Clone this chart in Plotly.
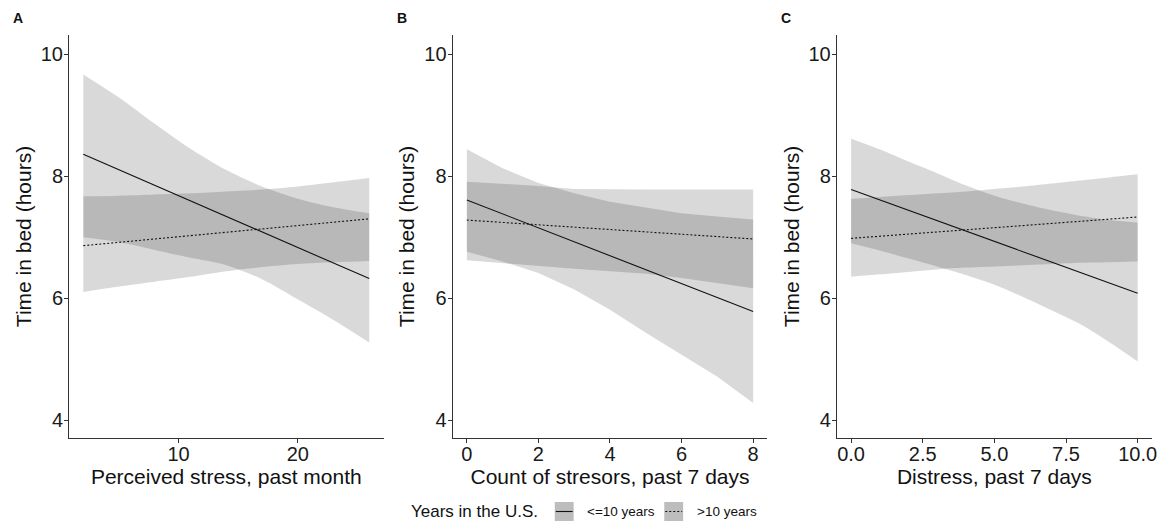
import plotly.graph_objects as go

# ---------------- data ----------------
# Panel A: Perceived stress, past month
xA = [2, 5, 8, 11, 14, 17, 20, 23, 26]
A_le10_hi = [9.67, 9.29, 8.86, 8.45, 8.10, 7.83, 7.63, 7.49, 7.39]
A_le10_lo = [7.00, 6.92, 6.79, 6.66, 6.54, 6.31, 5.98, 5.64, 5.27]
A_gt10_hi = [7.67, 7.68, 7.70, 7.72, 7.75, 7.78, 7.83, 7.90, 7.97]
A_gt10_lo = [6.10, 6.19, 6.27, 6.35, 6.44, 6.51, 6.56, 6.59, 6.61]
A_line_x = [2, 26]
A_le10_fit = [8.36, 6.32]
A_gt10_fit = [6.86, 7.30]

# Panel B: Count of stressors, past 7 days
xB = [0, 1, 2, 3, 4, 5, 6, 7, 8]
B_le10_hi = [8.44, 8.13, 7.89, 7.72, 7.58, 7.48, 7.39, 7.34, 7.29]
B_le10_lo = [6.76, 6.60, 6.41, 6.14, 5.81, 5.43, 5.07, 4.71, 4.28]
B_gt10_hi = [7.91, 7.88, 7.84, 7.79, 7.78, 7.78, 7.78, 7.78, 7.78]
B_gt10_lo = [6.62, 6.57, 6.52, 6.48, 6.44, 6.40, 6.33, 6.25, 6.16]
B_line_x = [0, 8]
B_le10_fit = [7.61, 5.78]
B_gt10_fit = [7.28, 6.97]

# Panel C: Distress, past 7 days
xC = [0, 1, 2, 3, 4, 5, 6, 7, 8, 9, 10]
C_le10_hi = [8.62, 8.44, 8.24, 8.05, 7.85, 7.68, 7.55, 7.44, 7.35, 7.28, 7.24]
C_le10_lo = [6.90, 6.78, 6.65, 6.52, 6.38, 6.22, 6.02, 5.80, 5.57, 5.28, 4.96]
C_gt10_hi = [7.63, 7.66, 7.69, 7.72, 7.75, 7.79, 7.83, 7.88, 7.93, 7.98, 8.03]
C_gt10_lo = [6.35, 6.39, 6.43, 6.47, 6.50, 6.52, 6.54, 6.56, 6.58, 6.59, 6.60]
C_line_x = [0, 10]
C_le10_fit = [7.78, 6.08]
C_gt10_fit = [6.98, 7.33]

y_ticks = [4, 6, 8, 10]
A_ticks = [10, 20]
B_ticks = [0, 2, 4, 6, 8]
C_ticks = [0, 2.5, 5, 7.5, 10]
C_ticklabels = ["0.0", "2.5", "5.0", "7.5", "10.0"]

x_titles = ["Perceived stress, past month", "Count of stresors, past 7 days", "Distress, past 7 days"]
y_title = "Time in bed (hours)"
panel_letters = ["A", "B", "C"]
legend_title = "Years in the U.S."
group_labels = ["<=10 years", ">10 years"]

# ---------------- layout helpers ----------------
# the page body has an 8px margin, so the figure is drawn 8px in from the corner
OFF = 8
W, H = 1176 - 2 * OFF, 529 - 2 * OFF
# plot area in reference-picture pixels
PL, PR, PT, PB = 69, 1157, 35, 438
ML, MR, MT, MB = PL - OFF, W - (PR - OFF), PT - OFF, H - (PB - OFF)
PW, PH = PR - PL, PB - PT


def px(xp):
    return (xp - PL) / PW


def py(yp):
    return (PB - yp) / PH


FONT = "Liberation Sans, Arial, sans-serif"
RIB = "rgba(0,0,0,0.15)"
LINE = "#111111"
DOT = "2px,2px"

panels = [
    dict(x=xA, le_hi=A_le10_hi, le_lo=A_le10_lo, gt_hi=A_gt10_hi, gt_lo=A_gt10_lo,
         lx=A_line_x, le_fit=A_le10_fit, gt_fit=A_gt10_fit, shape="spline",
         xr=[0.8, 27.2], tv=A_ticks, tt=[str(t) for t in A_ticks], dom=(69, 385)),
    dict(x=xB, le_hi=B_le10_hi, le_lo=B_le10_lo, gt_hi=B_gt10_hi, gt_lo=B_gt10_lo,
         lx=B_line_x, le_fit=B_le10_fit, gt_fit=B_gt10_fit, shape="linear",
         xr=[-0.4, 8.4], tv=B_ticks, tt=[str(t) for t in B_ticks], dom=(454.3, 770.7)),
    dict(x=xC, le_hi=C_le10_hi, le_lo=C_le10_lo, gt_hi=C_gt10_hi, gt_lo=C_gt10_lo,
         lx=C_line_x, le_fit=C_le10_fit, gt_fit=C_gt10_fit, shape="spline",
         xr=[-0.5, 10.5], tv=C_ticks, tt=C_ticklabels, dom=(840.3, 1157)),
]

fig = go.Figure()
layout = dict(
    width=W, height=H,
    margin=dict(l=ML, r=MR, t=MT, b=MB, pad=0),
    paper_bgcolor="white", plot_bgcolor="white",
    showlegend=False,
    font=dict(family=FONT, color="#111111"),
)

annotations = []
shapes = []

for i, p in enumerate(panels):
    k = "" if i == 0 else str(i + 1)
    xa, ya = "x" + k, "y" + k
    x = p["x"]
    for lo, hi in ((p["le_lo"], p["le_hi"]), (p["gt_lo"], p["gt_hi"])):
        fig.add_trace(go.Scatter(x=x, y=lo, xaxis=xa, yaxis=ya, mode="lines",
                                 line=dict(width=0, shape=p["shape"], smoothing=0.8),
                                 hoverinfo="skip"))
        fig.add_trace(go.Scatter(x=x, y=hi, xaxis=xa, yaxis=ya, mode="lines", fill="tonexty",
                                 fillcolor=RIB, line=dict(width=0, shape=p["shape"], smoothing=0.8),
                                 hoverinfo="skip"))
    # fitted lines
    fig.add_trace(go.Scatter(x=p["lx"], y=p["le_fit"], xaxis=xa, yaxis=ya, mode="lines",
                             line=dict(color=LINE, width=1.1), name=group_labels[0]))
    fig.add_trace(go.Scatter(x=p["lx"], y=p["gt_fit"], xaxis=xa, yaxis=ya, mode="lines",
                             line=dict(color=LINE, width=1.1, dash=DOT), name=group_labels[1]))

    axis_common = dict(showgrid=False, zeroline=False, showline=True, linecolor="#333333",
                       linewidth=1, ticks="outside", ticklen=4, tickwidth=1, tickcolor="#333333",
                       tickfont=dict(size=20, color="#1a1a1a", family=FONT))
    layout["xaxis" + k] = dict(axis_common, domain=[px(p["dom"][0]), px(p["dom"][1])], anchor=ya,
                               range=p["xr"], tickvals=p["tv"], ticktext=p["tt"],
                               ticklabelstandoff=-6,
                               title=dict(text=x_titles[i], font=dict(size=21, color="#111111"),
                                          standoff=0))
    layout["yaxis" + k] = dict(axis_common, domain=[0, 1], anchor=xa, range=[3.705, 10.316],
                               tickvals=y_ticks, ticktext=[str(t) for t in y_ticks],
                               ticklabelstandoff=-3,
                               title=dict(text=y_title, font=dict(size=21, color="#111111"),
                                          standoff=3))
    annotations.append(dict(text="<b>" + panel_letters[i] + "</b>", xref="paper", yref="paper",
                            x=px(p["dom"][0] - 51), y=py(18), xanchor="center", yanchor="middle",
                            showarrow=False, font=dict(size=14, color="#111111")))

# manual legend at the bottom
ly = py(511.5)
annotations.append(dict(text=legend_title, xref="paper", yref="paper", x=px(411), y=ly,
                        xanchor="left", yanchor="middle", showarrow=False,
                        font=dict(size=17, color="#111111")))
key_left = [557, 667]
label_left = [587, 698]
for j in range(2):
    x0, x1 = key_left[j], key_left[j] + 19
    shapes.append(dict(type="rect", xref="paper", yref="paper", x0=px(x0), x1=px(x1),
                       y0=py(521), y1=py(502), fillcolor="#bdbdbd", line=dict(width=0)))
    shapes.append(dict(type="line", xref="paper", yref="paper", x0=px(x0 + 1), x1=px(x1 - 1),
                       y0=ly, y1=ly,
                       line=dict(color=LINE, width=1.1, dash=None if j == 0 else DOT)))
    annotations.append(dict(text=group_labels[j], xref="paper", yref="paper", x=px(label_left[j]),
                            y=ly, xanchor="left", yanchor="middle", showarrow=False,
                            font=dict(size=13.5, color="#111111")))

layout["annotations"] = annotations
layout["shapes"] = shapes
fig.update_layout(**layout)
fig.write_html("out.html")
